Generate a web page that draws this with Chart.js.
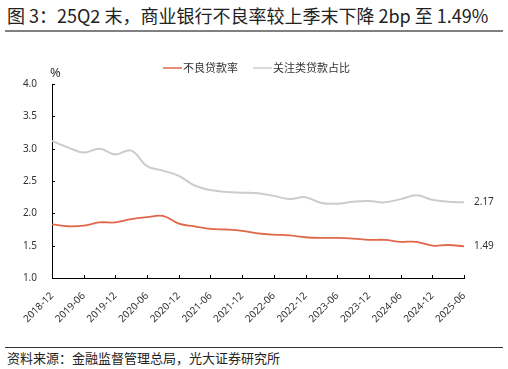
<!DOCTYPE html>
<html>
<head>
<meta charset="utf-8">
<script src="https://cdn.jsdelivr.net/npm/chart.js@4.4.1/dist/chart.umd.min.js"></script>
<style>
body{margin:0;width:508px;height:369px;background:#fff;overflow:hidden;position:relative;font-family:"Noto Sans CJK SC","Noto Sans",sans-serif}
#title{position:absolute;left:7px;top:5px;font-size:18px;line-height:20px;color:#222;white-space:nowrap}
#rule1{position:absolute;left:5px;width:498px;top:30px;height:2px;background:#808080}
#box{position:absolute;left:0;top:40px;width:508px;height:300px}
#rule2{position:absolute;left:5px;width:498px;top:347px;height:1px;background:#333}
#src{position:absolute;left:7px;top:350px;font-size:13px;line-height:16px;color:#222;white-space:nowrap}
</style>
</head>
<body>
<div id="title">图 3：25Q2 末，商业银行不良率较上季末下降 2bp 至 1.49%</div>
<div id="rule1"></div>
<div id="box"><canvas id="myChart"></canvas></div>
<div id="rule2"></div>
<div id="src">资料来源：金融监督管理总局，光大证券研究所</div>
<script>
// data, quarterly
var quarters = ["2018-12","2019-03","2019-06","2019-09","2019-12","2020-03","2020-06","2020-09","2020-12",
    "2021-03","2021-06","2021-09","2021-12","2022-03","2022-06","2022-09","2022-12",
    "2023-03","2023-06","2023-09","2023-12","2024-03","2024-06","2024-09","2024-12","2025-03","2025-06"];
var nplRatio = [1.83,1.80,1.81,1.86,1.86,1.91,1.94,1.96,1.84,1.80,1.76,1.75,1.73,1.69,1.67,1.66,1.63,
    1.62,1.62,1.61,1.59,1.59,1.56,1.56,1.50,1.51,1.49];
var specialMention = [3.12,3.02,2.94,3.00,2.91,2.97,2.73,2.66,2.58,2.43,2.36,2.33,2.32,2.31,2.27,2.22,2.25,
    2.16,2.15,2.18,2.19,2.17,2.22,2.28,2.21,2.18,2.17];
var seriesNames = ["不良贷款率", "关注类贷款占比"];
var yTicks = [1.0, 1.5, 2.0, 2.5, 3.0, 3.5, 4.0];

var numFont = "'Noto Sans', sans-serif";
var cjkFont = "'Noto Sans CJK SC', sans-serif";

// legend, unit and end labels
var extras = {
    id: 'extras',
    afterDraw(chart) {
        const ctx = chart.ctx;
        const area = chart.chartArea;
        ctx.save();
        // unit
        ctx.fillStyle = '#333';
        ctx.font = '13px ' + numFont;
        ctx.textAlign = 'left';
        ctx.textBaseline = 'middle';
        ctx.fillText('%', 50, 33);
        // legend
        const legendX = [163, 253];
        chart.data.datasets.forEach((ds, i) => {
            ctx.strokeStyle = ds.borderColor;
            ctx.lineWidth = 1.5;
            ctx.beginPath();
            ctx.moveTo(legendX[i], 28);
            ctx.lineTo(legendX[i] + 19, 28);
            ctx.stroke();
            ctx.fillStyle = '#333';
            ctx.font = '11px ' + cjkFont;
            ctx.fillText(ds.label, legendX[i] + 20, 28);
        });
        // end values
        ctx.font = '10px ' + numFont;
        chart.data.datasets.forEach((ds, i) => {
            const meta = chart.getDatasetMeta(i);
            const pt = meta.data[meta.data.length - 1];
            ctx.fillText(ds.data[ds.data.length - 1].toFixed(2), pt.x + 10, pt.y);
        });
        // inward tick marks
        ctx.strokeStyle = '#000';
        ctx.lineWidth = 1;
        const ys = chart.scales.y, xs = chart.scales.x;
        ys.ticks.forEach((t, i) => {
            const y = Math.round(ys.getPixelForTick(i)) + 0.5;
            ctx.beginPath(); ctx.moveTo(area.left, y); ctx.lineTo(area.left + 3, y); ctx.stroke();
        });
        quarters.forEach((q, i) => {
            if (i % 2 !== 0) return;
            const x = Math.round(xs.getPixelForValue(i)) + 0.5;
            ctx.beginPath(); ctx.moveTo(x, area.bottom); ctx.lineTo(x, area.bottom - 3); ctx.stroke();
        });
        ctx.restore();
    }
};

const ctx = document.getElementById('myChart').getContext('2d');
var npChart = new Chart(ctx, {
    type: 'line',
    data: {
        labels: quarters,
        datasets: [{
            label: seriesNames[0],
            data: nplRatio,
            borderColor: '#e0674a',
            borderWidth: 1.8,
            pointRadius: 0,
            tension: 0.4
        }, {
            label: seriesNames[1],
            data: specialMention,
            borderColor: '#cccccc',
            borderWidth: 2,
            pointRadius: 0,
            tension: 0.4
        }]
    },
    options: {
        responsive: true,
        maintainAspectRatio: false,
        animation: false,
        layout: { padding: { top: 44, right: 44, left: 0, bottom: 0 } },
        plugins: {
            legend: { display: false },
            tooltip: { enabled: false }
        },
        scales: {
            x: {
                offset: false,
                grid: { display: false },
                border: { display: true, color: '#000', width: 1 },
                ticks: {
                    autoSkip: false,
                    minRotation: 45,
                    maxRotation: 45,
                    padding: 4,
                    color: '#333',
                    font: { size: 10, family: numFont },
                    callback: (v, i) => i % 2 === 0 ? quarters[i] : null
                },
                afterFit: s => { s.height = 62; }
            },
            y: {
                min: 1,
                max: 4,
                grid: { display: false },
                border: { display: true, color: '#000', width: 1 },
                afterBuildTicks: s => { s.ticks = yTicks.map(v => ({ value: v })); },
                ticks: {
                    padding: 7,
                    color: '#333',
                    font: { size: 10, family: numFont },
                    callback: v => Number(v).toFixed(1)
                },
                afterFit: s => { s.width = 52; }
            }
        }
    },
    plugins: [extras]
});
</script>
</body>
</html>
